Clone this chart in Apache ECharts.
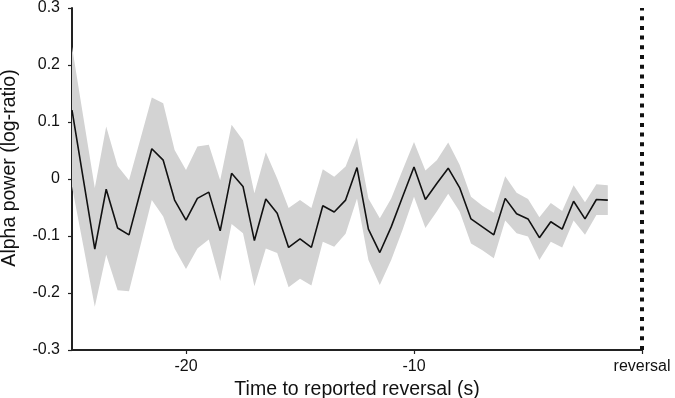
<!DOCTYPE html>
<html>
<head>
<meta charset="utf-8">
<script src="https://cdn.jsdelivr.net/npm/echarts@6/dist/echarts.min.js"></script>
<style>
  html, body { margin: 0; padding: 0; background: #fff; }
  #chart { width: 675px; height: 398px; }
</style>
</head>
<body>
<div id="chart"></div>
<script>
// time before the reported reversal (s)
var times = [-25, -24.5, -24, -23.5, -23, -22.5, -22, -21.5, -21, -20.5,
             -20, -19.5, -19, -18.5, -18, -17.5, -17, -16.5, -16, -15.5,
             -15, -14.5, -14, -13.5, -13, -12.5, -12, -11.5, -11, -10.5,
             -10, -9.5, -9, -8.5, -8, -7.5, -7, -6.5, -6, -5.5,
             -5, -4.5, -4, -3.5, -3, -2.5, -2, -1.5];

// mean alpha power (log-ratio)
var meanPower = [0.121, -0.001, -0.123, -0.018, -0.086, -0.098, -0.022, 0.053, 0.033, -0.037,
                 -0.072, -0.034, -0.023, -0.091, 0.010, -0.013, -0.108, -0.035, -0.060, -0.120,
                 -0.105, -0.120, -0.047, -0.058, -0.037, 0.020, -0.088, -0.129, -0.084, -0.031,
                 0.021, -0.036, -0.008, 0.019, -0.015, -0.070, -0.084, -0.098, -0.034, -0.061,
                 -0.070, -0.103, -0.075, -0.088, -0.039, -0.070, -0.036, -0.037];

// upper / lower edge of the grey band
var upperCI = [0.232, 0.108, -0.016, 0.092, 0.023, -0.002, 0.070, 0.143, 0.133, 0.051,
               0.016, 0.057, 0.060, -0.002, 0.095, 0.068, -0.025, 0.047, 0.001, -0.051,
               -0.037, -0.051, 0.017, 0.004, 0.022, 0.073, -0.034, -0.069, -0.034, 0.016,
               0.065, 0.015, 0.033, 0.064, 0.025, -0.031, -0.047, -0.059, 0.005, -0.024,
               -0.035, -0.067, -0.042, -0.056, -0.011, -0.041, -0.009, -0.011];

var lowerCI = [-0.013, -0.118, -0.224, -0.133, -0.195, -0.197, -0.117, -0.037, -0.066, -0.122,
               -0.158, -0.122, -0.106, -0.179, -0.079, -0.095, -0.188, -0.122, -0.130, -0.190,
               -0.175, -0.187, -0.110, -0.119, -0.096, -0.034, -0.142, -0.186, -0.142, -0.089,
               -0.031, -0.086, -0.057, -0.026, -0.057, -0.113, -0.125, -0.139, -0.073, -0.095,
               -0.101, -0.142, -0.110, -0.120, -0.073, -0.098, -0.063, -0.063];

var xTicks = [-20, -10, 0];
var reversalSpan = [-0.3, 0.3];

var font = "'Liberation Sans', Arial, sans-serif";
var axisColor = '#222';

var chart = echarts.init(document.getElementById('chart'));

var option = {
    animation: false,
    grid: { left: 72, right: 33, top: 8, bottom: 48, outerBoundsMode: 'none', containLabel: false },
    xAxis: {
        type: 'value',
        min: -25,
        max: 0,
        name: 'Time to reported reversal (s)',
        nameLocation: 'middle',
        nameGap: 23,
        nameTextStyle: { color: '#111', fontSize: 19.5, fontFamily: font },
        splitLine: { show: false },
        axisLine: { onZero: false, lineStyle: { color: axisColor, width: 2 } },
        axisTick: {
            length: 4,
            customValues: xTicks,
            lineStyle: { color: axisColor, width: 1.2 }
        },
        axisLabel: {
            customValues: xTicks,
            margin: 9,
            color: '#111',
            fontSize: 16,
            fontFamily: font,
            hideOverlap: false,
            formatter: function (v) {
                return v === 0 ? 'reversal' : String(v);
            }
        }
    },
    yAxis: {
        type: 'value',
        min: -0.3,
        max: 0.3,
        interval: 0.1,
        name: 'Alpha power (log-ratio)',
        nameLocation: 'middle',
        nameGap: 52,
        nameTextStyle: { color: '#111', fontSize: 19.5, fontFamily: font, padding: [0, 0, 0, 22] },
        splitLine: { show: false },
        axisLine: { onZero: false, lineStyle: { color: axisColor, width: 2 } },
        axisTick: { length: 4, lineStyle: { color: axisColor, width: 1.2 } },
        axisLabel: {
            margin: 12,
            color: '#111',
            fontSize: 16,
            fontFamily: font,
            formatter: function (v) {
                var r = Math.round(v * 10) / 10;
                return r === 0 ? '0' : r.toFixed(1);
            }
        }
    },
    series: [
        {
            // grey band between lower and upper edge
            type: 'custom',
            silent: true,
            z: 1,
            data: times.map(function (t, i) { return [t, lowerCI[i], upperCI[i]]; }),
            encode: { x: 0, y: [1, 2] },
            renderItem: function (params, api) {
                if (params.dataIndex !== 0) return;
                var pts = [];
                for (var i = 0; i < times.length; i++) {
                    pts.push(api.coord([times[i], upperCI[i]]));
                }
                for (var j = times.length - 1; j >= 0; j--) {
                    pts.push(api.coord([times[j], lowerCI[j]]));
                }
                return {
                    type: 'polygon',
                    shape: { points: pts },
                    style: { fill: '#d3d3d3' }
                };
            }
        },
        {
            type: 'line',
            z: 3,
            symbol: 'none',
            data: times.map(function (t, i) { return [t, meanPower[i]]; }),
            lineStyle: { color: '#111', width: 1.6 }
        },
        {
            // dotted marker at the reversal
            type: 'line',
            z: 4,
            symbol: 'none',
            clip: false,
            silent: true,
            data: reversalSpan.map(function (v) { return [0, v]; }),
            lineStyle: { color: '#111', width: 4, type: [4, 5.7], cap: 'butt' }
        }
    ]
};

chart.setOption(option);
</script>
</body>
</html>
